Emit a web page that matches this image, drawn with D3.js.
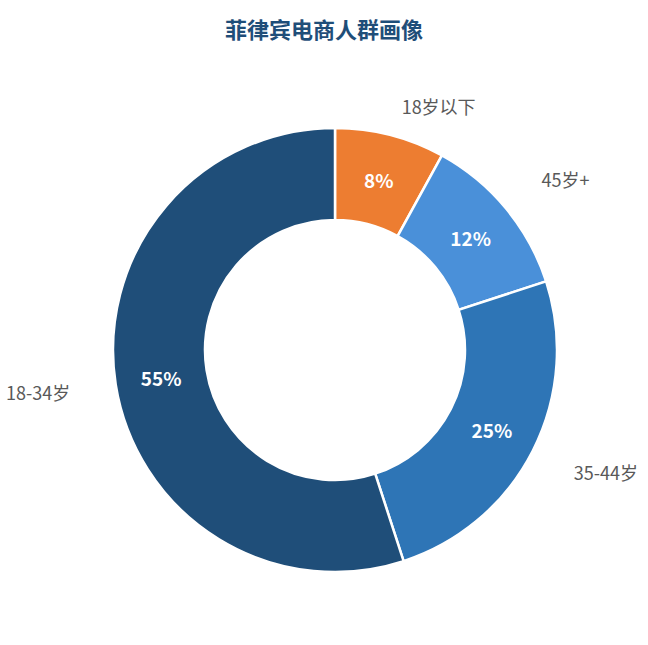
<!DOCTYPE html>
<html><head><meta charset="utf-8">
<script src="https://cdn.jsdelivr.net/npm/d3@7"></script>
<style>body{margin:0;background:#fff;font-family:"Noto Sans CJK SC","Noto Sans",sans-serif;}</style>
</head><body><div id="chart"></div>
<script>
// donut chart: age groups of Philippine e-commerce users
const categories = ["18岁以下", "45岁+", "35-44岁", "18-34岁"];
const values = [8, 12, 25, 55];
const colors = ["#ED7D31", "#4A90D9", "#2E75B6", "#1F4E79"];

const width = 648, height = 645;
const cx = 335, cy = 350, outerR = 222, innerR = 130;

const svg = d3.select("#chart").append("svg")
  .attr("width", width).attr("height", height);

svg.append("text")
  .attr("x", width / 2).attr("y", 38)
  .attr("text-anchor", "middle")
  .style("font-size", "22px").style("font-weight", "bold")
  .style("fill", "#1F4E79")
  .text("菲律宾电商人群画像");

const data = categories.map((c, i) => ({ cat: c, value: values[i], color: colors[i] }));
const pie = d3.pie().sort(null).value(d => d.value);
const arc = d3.arc().innerRadius(innerR).outerRadius(outerR);
const arcs = pie(data);

const g = svg.append("g").attr("transform", `translate(${cx},${cy})`);

g.selectAll("path")
  .data(arcs)
  .enter().append("path")
    .attr("d", arc)
    .attr("fill", d => d.data.color)
    .attr("stroke", "#fff")
    .attr("stroke-width", 2.5);

// percent labels inside ring
const pctArc = d3.arc().innerRadius(176).outerRadius(176);
g.selectAll(".pct")
  .data(arcs)
  .enter().append("text")
    .attr("class", "pct")
    .attr("transform", d => `translate(${pctArc.centroid(d)})`)
    .attr("text-anchor", "middle")
    .attr("dominant-baseline", "central")
    .style("font-size", "19px").style("font-weight", "bold")
    .style("fill", "#fff")
    .text(d => d.data.value + "%");

// category labels outside
const labR = 268;
g.selectAll(".lab")
  .data(arcs)
  .enter().append("text")
    .attr("class", "lab")
    .attr("x", d => {
      const a = (d.startAngle + d.endAngle) / 2;
      return Math.sin(a) * labR;
    })
    .attr("y", d => {
      const a = (d.startAngle + d.endAngle) / 2;
      const y = -Math.cos(a) * labR;
      return a < 0.5 ? y + 16 : y;
    })
    .attr("text-anchor", d => Math.sin((d.startAngle + d.endAngle) / 2) > 0 ? "start" : "end")
    .attr("dominant-baseline", "central")
    .style("font-size", "18px")
    .style("fill", "#595959")
    .text(d => d.data.cat);
</script>
</body></html>
